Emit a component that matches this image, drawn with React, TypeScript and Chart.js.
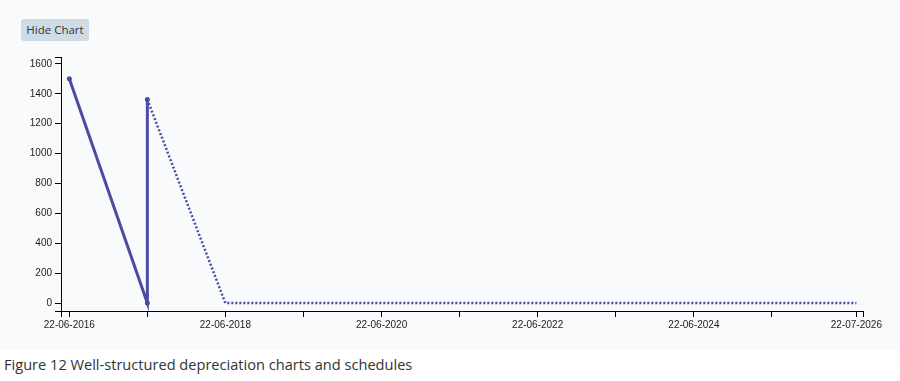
import React, { useEffect, useRef } from "react";
import { Chart, registerables } from "chart.js";

Chart.register(...registerables);

// ---- data ----
const straightDates = ["2016-06-22", "2017-06-22", "2017-06-22"];
const straightValues = [1500, 0, 1362];

const dottedDates = [
  "2017-06-22", "2018-06-22", "2019-06-22", "2020-06-22", "2021-06-22",
  "2022-06-22", "2023-06-22", "2024-06-22", "2025-06-22", "2026-06-22", "2026-07-22",
];
const dottedValues = [1362, 0, 0, 0, 0, 0, 0, 0, 0, 0, 0];

const xTickDates = [
  "2016-06-22", "2017-06-22", "2018-06-22", "2019-06-22", "2020-06-22",
  "2021-06-22", "2022-06-22", "2023-06-22", "2024-06-22", "2025-06-22", "2026-07-22",
];
const xLabelledDates = ["2016-06-22", "2018-06-22", "2020-06-22", "2022-06-22", "2024-06-22", "2026-07-22"];
const yTickValues = [0, 200, 400, 600, 800, 1000, 1200, 1400, 1600];

const DAY = 86400000;
const toMs = (s: string) => {
  const [y, m, d] = s.split("-").map(Number);
  return Date.UTC(y, m - 1, d);
};
const fmt = (ms: number) => {
  const d = new Date(ms);
  const dd = String(d.getUTCDate()).padStart(2, "0");
  const mm = String(d.getUTCMonth() + 1).padStart(2, "0");
  return `${dd}-${mm}-${d.getUTCFullYear()}`;
};

const X_MIN = toMs("2016-06-22") - 39 * DAY;
const X_MAX = toMs("2026-07-22") + 31 * DAY;
const Y_MIN = -53;
const Y_MAX = 1646;

const COLOR = "#4b4ba2";

export default function App() {
  const ref = useRef<HTMLCanvasElement | null>(null);

  useEffect(() => {
    if (!ref.current) return;
    const labelled = new Set(xLabelledDates.map(toMs));
    const chart = new Chart(ref.current, {
      type: "line",
      data: {
        datasets: [
          {
            data: straightDates.map((d, i) => ({ x: toMs(d), y: straightValues[i] })),
            borderColor: COLOR,
            backgroundColor: COLOR,
            borderWidth: 3,
            pointRadius: 2.5,
            pointHoverRadius: 2.5,
            pointBorderWidth: 0,
            pointBackgroundColor: COLOR,
            tension: 0,
            fill: false,
          },
          {
            data: dottedDates.map((d, i) => ({ x: toMs(d), y: dottedValues[i] })),
            borderColor: COLOR,
            backgroundColor: COLOR,
            borderWidth: 2.5,
            borderDash: [2, 2],
            pointRadius: 0,
            tension: 0,
            fill: false,
          },
        ],
      },
      options: {
        animation: false,
        responsive: false,
        events: [],
        layout: { padding: { left: 0, top: 57, right: 37, bottom: 0 } },
        plugins: { legend: { display: false }, tooltip: { enabled: false } },
        scales: {
          x: {
            type: "linear",
            min: X_MIN,
            max: X_MAX,
            grid: { display: true, drawOnChartArea: false, drawTicks: true, tickLength: 6, color: "#000", lineWidth: 1 },
            border: { display: true, color: "#000", width: 1 },
            afterBuildTicks: (axis: any) => {
              axis.ticks = [X_MIN, ...xTickDates.map(toMs), X_MAX].map((v) => ({ value: v }));
            },
            afterFit: (axis: any) => {
              axis.height = 39;
            },
            ticks: {
              autoSkip: false,
              maxRotation: 0,
              minRotation: 0,
              padding: 2,
              color: "#222",
              font: { family: "'Liberation Sans', Arial, sans-serif", size: 10 },
              callback: (v: any) => (labelled.has(Number(v)) ? fmt(Number(v)) : ""),
            },
          },
          y: {
            type: "linear",
            min: Y_MIN,
            max: Y_MAX,
            grid: { display: true, drawOnChartArea: false, drawTicks: true, tickLength: 6, color: "#000", lineWidth: 1 },
            border: { display: true, color: "#000", width: 1 },
            afterBuildTicks: (axis: any) => {
              axis.ticks = [Y_MIN, ...yTickValues, Y_MAX].map((v) => ({ value: v }));
            },
            afterFit: (axis: any) => {
              axis.width = 61;
            },
            ticks: {
              autoSkip: false,
              padding: 3,
              color: "#222",
              font: { family: "'Liberation Sans', Arial, sans-serif", size: 10 },
              callback: (v: any) => (yTickValues.includes(Number(v)) ? String(v) : ""),
            },
          },
        },
      },
    });
    return () => chart.destroy();
  }, []);

  return (
    <div style={{ position: "absolute", left: 0, top: 0, width: 900, height: 381, background: "#fff" }}>
      <div style={{ position: "absolute", left: 0, top: 0, width: 900, height: 350, background: "#f9fafc" }}>
        <canvas ref={ref} width={900} height={350} style={{ position: "absolute", left: 0, top: 0, width: 900, height: 350 }} />
        <button
          style={{
            position: "absolute",
            left: 21,
            top: 19,
            width: 68,
            height: 22,
            padding: 0,
            border: "none",
            borderRadius: 3,
            background: "#cfdce6",
            color: "#333",
            fontFamily: "'Open Sans', sans-serif",
            fontSize: 11.5,
            lineHeight: "22px",
          }}
        >
          Hide Chart
        </button>
      </div>
      <div
        style={{
          position: "absolute",
          left: 4,
          top: 353,
          fontFamily: "'Open Sans', sans-serif",
          fontSize: 14.6,
          color: "#333",
          whiteSpace: "nowrap",
          lineHeight: "22px",
        }}
      >
        Figure 12 Well-structured depreciation charts and schedules
      </div>
    </div>
  );
}
